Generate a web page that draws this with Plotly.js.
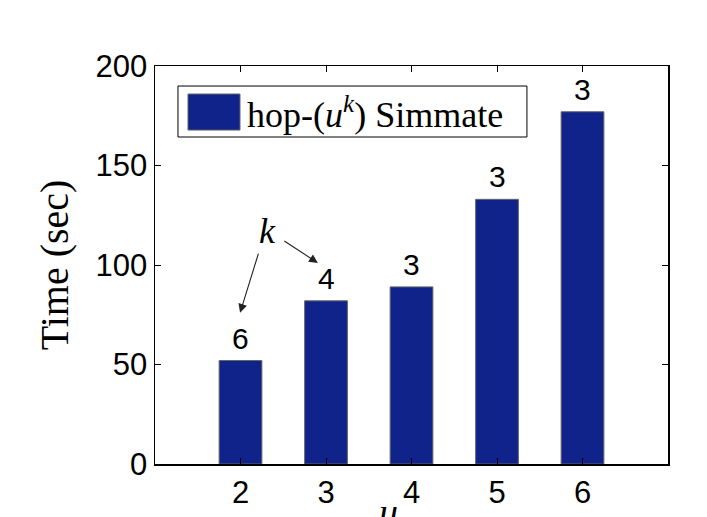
<!DOCTYPE html>
<html>
<head>
<meta charset="utf-8">
<script src="https://cdn.plot.ly/plotly-3.0.1.min.js"></script>
<style>html,body{margin:0;padding:0;background:#fff;}#chart{width:707px;height:517px;}</style>
</head>
<body>
<div id="chart"></div>
<script>
// Data
const uValues = [2, 3, 4, 5, 6];
const timeSec = [52, 82, 89, 133, 177];
const kValues = ['6', '4', '3', '3', '3'];
const seriesName = 'hop-(<i>u</i><sup><i>k</i></sup>) Simmate';
const yTicks = [0, 50, 100, 150, 200];
const xTitle = '<i>u</i>';

const barColor = '#0f238a';
const sansFont = 'Liberation Sans, Arial, sans-serif';
const serifFont = 'Liberation Serif, Times New Roman, serif';

const trace = {
  type: 'bar',
  x: uValues,
  y: timeSec,
  width: 0.5,
  name: seriesName,
  marker: {color: barColor, line: {color: '#666', width: 1}},
  showlegend: false,
  hoverinfo: 'x+y'
};

// k labels above bars
const annotations = uValues.map((u, i) => ({
  x: u, y: timeSec[i], xref: 'x', yref: 'y',
  text: kValues[i], showarrow: false,
  yanchor: 'bottom', yshift: 4,
  font: {family: sansFont, size: 30, color: '#000'}
}));

// "k" pointer annotation
annotations.push({
  x: 2.32, y: 117, xref: 'x', yref: 'y', text: '<i>k</i>', showarrow: false,
  font: {family: serifFont, size: 36, color: '#000'}
});
annotations.push({
  x: 1.995, y: 76, xref: 'x', yref: 'y', ax: 2.215, ay: 106.5, axref: 'x', ayref: 'y',
  text: '', showarrow: true, arrowhead: 2, arrowsize: 1.6, arrowwidth: 1.1, arrowcolor: '#222'
});
annotations.push({
  x: 2.905, y: 101, xref: 'x', yref: 'y', ax: 2.495, ay: 112.6, axref: 'x', ayref: 'y',
  text: '', showarrow: true, arrowhead: 2, arrowsize: 1.6, arrowwidth: 1.1, arrowcolor: '#222'
});

// x-axis title (partly cut off at the bottom, as in the reference)
annotations.push({
  x: 0.455, y: -0.062, xref: 'paper', yref: 'paper', xanchor: 'center', yanchor: 'top',
  text: xTitle, showarrow: false,
  font: {family: serifFont, size: 38, color: '#000'}
});

// custom legend label
annotations.push({
  x: 0.1754, y: 0.884, xref: 'paper', yref: 'paper', xanchor: 'left', yanchor: 'middle',
  text: seriesName, showarrow: false,
  font: {family: serifFont, size: 36, color: '#000'}
});

const shapes = [
  {type: 'rect', xref: 'paper', yref: 'paper', x0: 0.0448, x1: 0.725, y0: 0.8216, y1: 0.9497,
   line: {color: '#000', width: 1}, fillcolor: '#fff', layer: 'above'},
  {type: 'rect', xref: 'paper', yref: 'paper', x0: 0.0643, x1: 0.1657, y0: 0.839, y1: 0.9296,
   line: {color: '#666', width: 1}, fillcolor: barColor, layer: 'above'}
];

const layout = {
  width: 707, height: 517,
  margin: {l: 155, r: 39, t: 66, b: 53},
  paper_bgcolor: '#fff', plot_bgcolor: '#fff',
  showlegend: false,
  xaxis: {
    range: [1, 7], tickvals: uValues, ticktext: uValues.map(String),
    ticks: 'inside', ticklen: 6, tickcolor: '#000', tickwidth: 1,
    showline: true, linecolor: '#000', linewidth: 1.5, mirror: 'ticks',
    showgrid: false, zeroline: false,
    tickfont: {family: sansFont, size: 31, color: '#000'},
    automargin: false
  },
  yaxis: {
    range: [0, 200], tickvals: yTicks,
    ticks: 'inside', ticklen: 6, tickcolor: '#000', tickwidth: 1,
    showline: true, linecolor: '#000', linewidth: 1.5, mirror: 'ticks',
    showgrid: false, zeroline: false,
    tickfont: {family: sansFont, size: 31, color: '#000'},
    title: {text: 'Time (sec)', font: {family: serifFont, size: 40, color: '#000'}, standoff: 14},
    automargin: false
  },
  annotations: annotations,
  shapes: shapes
};

Plotly.newPlot('chart', [trace], layout, {displayModeBar: false, staticPlot: true});
</script>
</body>
</html>
